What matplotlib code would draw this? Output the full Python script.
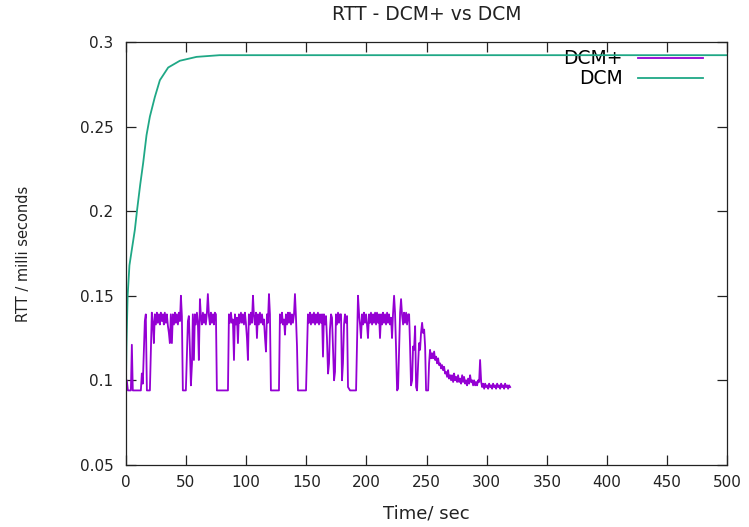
import matplotlib
matplotlib.use("Agg")
import matplotlib.pyplot as plt
from matplotlib.ticker import FuncFormatter

# DCM: smooth rise then flat
dcm_t = [0, 0.5, 1.5, 3, 4.7, 6, 7.5, 9.4, 12, 14.4, 17.2, 20, 24.1, 28.3,
         35.2, 44.9, 58.8, 78, 500]
dcm_rtt = [0.094, 0.12, 0.15, 0.168, 0.176, 0.182, 0.189, 0.201, 0.216, 0.2285,
           0.245, 0.256, 0.2675, 0.2775, 0.285, 0.289, 0.2913, 0.2923, 0.2923]

# DCM+: (time, rtt) samples
dcmp_samples = [
    (0, .094), (0.8, .100), (1.7, .094), (4.2, .094), (5.0, .121), (5.8, .094),
    (12.5, .094), (13.3, .104), (14.1, .098), (15.8, .135), (16.6, .139),
    (17.5, .094), (20.0, .094),
    # first high block
    (21.6, .140), (22.5, .134), (23.3, .122), (24.1, .139), (25.0, .133),
    (25.8, .140), (26.6, .134), (27.5, .139), (28.3, .133), (29.1, .140),
    (30.0, .135), (30.8, .139), (31.6, .133), (32.4, .140), (33.3, .134),
    (34.1, .139), (35.0, .132), (35.8, .128), (36.6, .122), (37.4, .139),
    (38.3, .122), (39.1, .139), (40.0, .133), (40.8, .140), (41.6, .134),
    (42.4, .139), (43.3, .133), (44.1, .140), (45.0, .135), (45.8, .150),
    (46.6, .138), (47.4, .094), (49.9, .094),
    (51.6, .135), (52.4, .138), (53.2, .120), (54.1, .097), (55.0, .110),
    (55.7, .139), (56.6, .112), (57.4, .139), (58.2, .133), (59.1, .140),
    (59.9, .134), (60.7, .112), (61.6, .148), (62.4, .138), (63.2, .133),
    (64.1, .140), (64.9, .134), (65.7, .139), (66.5, .133), (67.4, .140),
    (68.2, .151), (69.1, .138), (69.9, .133), (70.7, .140), (71.5, .134),
    (72.4, .139), (73.2, .133), (74.0, .140), (74.9, .139), (75.7, .094),
    (84.9, .094),
    (85.7, .139), (86.5, .134), (87.4, .140), (88.2, .134), (89.0, .136),
    (89.9, .112), (90.7, .139), (91.5, .133), (92.4, .137), (93.2, .122),
    (94.0, .139), (94.8, .134), (95.7, .140), (96.5, .134), (97.3, .139),
    (98.2, .133), (99.0, .140), (99.8, .134), (100.7, .125), (101.5, .112),
    (102.3, .139), (103.2, .133), (104.0, .140), (104.8, .134), (105.7, .150),
    (106.5, .138), (107.3, .133), (108.2, .140), (109.0, .125), (109.8, .139),
    (110.6, .133), (111.5, .140), (112.3, .134), (113.2, .139), (114.0, .133),
    (114.8, .136), (115.7, .125), (116.5, .117), (117.3, .139), (118.1, .134),
    (119.0, .151), (119.8, .139), (120.6, .094), (127.3, .094),
    (128.1, .139), (129.0, .134), (129.8, .140), (130.6, .133), (131.5, .136),
    (132.3, .127), (133.1, .139), (134.0, .133), (134.8, .140), (135.6, .134),
    (136.4, .140), (137.3, .133), (138.1, .139), (138.9, .134), (139.8, .139),
    (140.6, .151), (141.4, .138), (142.3, .120), (143.1, .094), (149.8, .094),
    (151.4, .139), (152.3, .134), (153.1, .140), (153.9, .133), (154.8, .139),
    (155.6, .134), (156.4, .140), (157.3, .133), (158.1, .139), (158.9, .134),
    (159.7, .140), (160.6, .133), (161.4, .139), (162.2, .134), (163.1, .139),
    (163.9, .114), (164.7, .139), (165.6, .133), (166.4, .138), (167.2, .125),
    (168.1, .104), (168.9, .110), (169.7, .130), (170.6, .139), (171.4, .137),
    (172.2, .120), (173.1, .100), (173.9, .105), (174.7, .139), (175.5, .133),
    (176.4, .140), (177.2, .134), (178.0, .139), (178.9, .139), (179.7, .100),
    (180.5, .110), (181.4, .133), (182.2, .139), (183.0, .134), (183.9, .138),
    (184.7, .096), (186.4, .094), (191.4, .094),
    (193.0, .150), (193.9, .139), (194.7, .133), (195.5, .125), (196.4, .139),
    (197.2, .133), (198.0, .140), (198.8, .134), (199.7, .139), (200.5, .133),
    (201.3, .125), (202.2, .139), (203.0, .134), (203.8, .140), (204.7, .133),
    (205.5, .139), (206.3, .134), (207.2, .140), (208.0, .133), (208.8, .140),
    (209.7, .134), (210.5, .139), (211.3, .125), (212.2, .139), (213.0, .133),
    (213.8, .140), (214.6, .134), (215.5, .139), (216.3, .133), (217.2, .140),
    (218.0, .134), (218.8, .139), (219.6, .133), (220.5, .137), (221.3, .125),
    (222.1, .139), (223.0, .150), (223.8, .140), (224.6, .120), (225.5, .094),
    (226.3, .095), (227.2, .120),
    (228.0, .140), (228.8, .148), (229.6, .139), (230.5, .133), (231.3, .140),
    (232.1, .134), (233.0, .140), (233.8, .133), (234.7, .139), (235.5, .139),
    (236.3, .120), (237.1, .097), (238.0, .100), (238.8, .120), (239.6, .118),
    (240.5, .132), (241.3, .096), (242.1, .094), (243.0, .110), (243.8, .122),
    (244.6, .118), (245.4, .128), (246.3, .134), (247.1, .128), (248.0, .130),
    (248.8, .120), (249.6, .094), (251.3, .094),
    # decay towards ~0.097
    (252.1, .110), (252.9, .118), (253.8, .113), (254.6, .116), (255.4, .113),
    (256.3, .117), (257.1, .112), (257.9, .114), (258.8, .110), (259.6, .113),
    (260.4, .109), (261.3, .110), (262.1, .107), (262.9, .109), (263.7, .106),
    (264.6, .108), (265.4, .104), (266.2, .105), (267.1, .102), (267.9, .106),
    (268.7, .101), (269.6, .103), (270.4, .100), (271.2, .103), (272.1, .099),
    (272.9, .104), (273.7, .100), (274.6, .102), (275.4, .099), (276.2, .103),
    (277.1, .099), (277.9, .101), (278.7, .098), (279.6, .103), (280.4, .099),
    (281.2, .102), (282.1, .098), (282.9, .100), (283.7, .097), (284.5, .101),
    (285.4, .098), (286.2, .103), (287.0, .099), (287.9, .100), (288.7, .097),
    (289.5, .100), (290.4, .097), (291.2, .099), (292.0, .097), (292.9, .100),
    (293.7, .099), (294.5, .112), (295.4, .099), (296.2, .096), (297.0, .098),
    (297.9, .095), (298.7, .098), (299.5, .096), (300.4, .097), (301.2, .095),
    (302.0, .098), (302.9, .096), (303.7, .097), (304.5, .095), (305.3, .098),
    (306.2, .096), (307.0, .097), (307.8, .095), (308.7, .098), (309.5, .096),
    (310.3, .097), (311.2, .095), (312.0, .098), (312.8, .096), (313.6, .097),
    (314.5, .095), (315.3, .098), (316.1, .096), (317.0, .097), (317.8, .095),
    (318.6, .097), (319.5, .096),
]
dcmp_t = [s[0] for s in dcmp_samples]
dcmp_rtt = [s[1] for s in dcmp_samples]

x_ticks = list(range(0, 501, 50))
y_ticks = [0.05, 0.1, 0.15, 0.2, 0.25, 0.3]

fig = plt.figure(figsize=(7.49, 5.27), dpi=100)
ax = fig.add_axes([0.168, 0.118, 0.803, 0.802])

ax.plot(dcmp_t, dcmp_rtt, color='#9400d3', lw=1.3, label='DCM+')
ax.plot(dcm_t, dcm_rtt, color='#1fa886', lw=1.3, label='DCM')

ax.set_xlim(0, 500)
ax.set_ylim(0.05, 0.3)
ax.set_xticks(x_ticks)
ax.set_yticks(y_ticks)
ax.yaxis.set_major_formatter(FuncFormatter(lambda v, p: '%g' % v))
ax.tick_params(direction='in', length=7, width=0.9, top=True, right=True,
               labelsize=11, colors='#222222')
ax.tick_params(axis='y', pad=9)
ax.tick_params(axis='x', pad=7)
for s in ax.spines.values():
    s.set_linewidth(0.9)
    s.set_color('#222222')

ax.set_title('RTT - DCM+ vs DCM', fontsize=13.5, pad=16, color='#222222')
ax.set_xlabel('Time/ sec', fontsize=13, va='center', color='#222222')
ax.xaxis.set_label_coords(0.5, -0.116)
ax.set_ylabel('RTT / milli seconds', fontsize=10.5, va='center', color='#222222')
ax.yaxis.set_label_coords(-0.17, 0.5)

leg = ax.legend(loc='upper right', bbox_to_anchor=(0.96, 0.983), frameon=False,
                markerfirst=False, fontsize=13.5, handlelength=3.5,
                handletextpad=0.8, labelspacing=0.05, borderpad=0, borderaxespad=0)
leg.set_zorder(1)

fig.savefig('out.png', dpi=100)
